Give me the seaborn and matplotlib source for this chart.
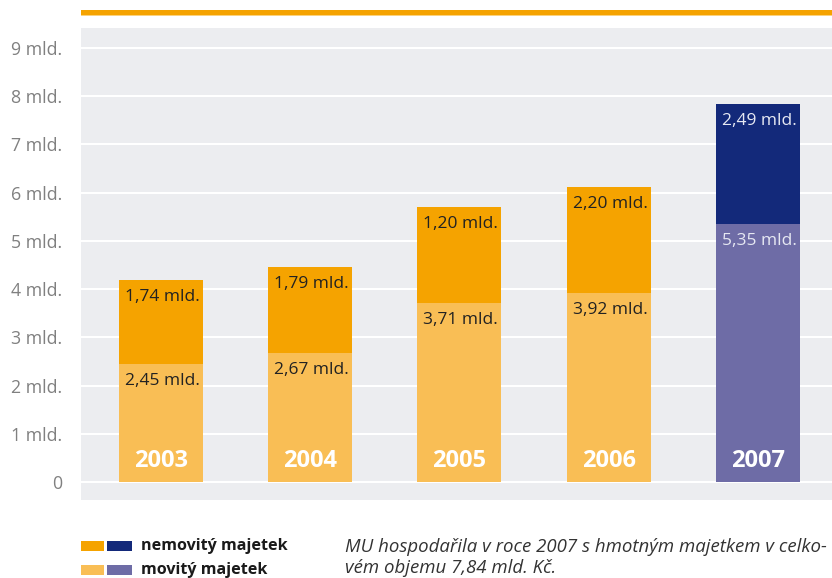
import matplotlib
matplotlib.use("Agg")
import matplotlib.pyplot as plt
import seaborn as sns
import pandas as pd
from matplotlib.patches import Rectangle

# ---- data ----
years = ["2003", "2004", "2005", "2006", "2007"]
movity = [2.45, 2.67, 3.71, 3.92, 5.35]          # lower segment (movitý majetek)
nemovity = [1.74, 1.79, 2.00, 2.20, 2.49]        # upper segment height as drawn
movity_labels = ["2,45 mld.", "2,67 mld.", "3,71 mld.", "3,92 mld.", "5,35 mld."]
nemovity_labels = ["1,74 mld.", "1,79 mld.", "1,20 mld.", "2,20 mld.", "2,49 mld."]
ytick_vals = [0, 1, 2, 3, 4, 5, 6, 7, 8, 9]
ytick_labels = ["0", "1 mld.", "2 mld.", "3 mld.", "4 mld.", "5 mld.",
                "6 mld.", "7 mld.", "8 mld.", "9 mld."]
legend_labels = ["nemovitý majetek", "movitý majetek"]
caption = "MU hospodařila v roce 2007 s hmotným majetkem v celko-\nvém objemu 7,84 mld. Kč."

# ---- colours ----
upper_colors = ["#F5A300", "#F5A300", "#F5A300", "#F5A300", "#13297A"]
lower_colors = ["#F9BE55", "#F9BE55", "#F9BE55", "#F9BE55", "#6E6CA6"]
upper_text = ["#222222"] * 4 + ["#E6E8F2"]
lower_text = ["#222222"] * 4 + ["#E6E8F2"]
panel = "#ECEDF0"

sns.set_theme(style="white")
plt.rcParams["font.family"] = ["Open Sans", "DejaVu Sans"]

W, H = 832, 578
fig = plt.figure(figsize=(W / 100, H / 100), dpi=100)
ax = fig.add_axes([81 / W, 1 - 500 / H, 1 - 81 / W, (500 - 28) / H])
ax.set_facecolor(panel)

totals = [m + n for m, n in zip(movity, nemovity)]
df = pd.DataFrame({"year": years, "total": totals, "movity": movity})

sns.barplot(data=df, x="year", y="total", hue="year", palette=upper_colors,
            legend=False, width=0.563, saturation=1, ax=ax, zorder=3, linewidth=0)
sns.barplot(data=df, x="year", y="movity", hue="year", palette=lower_colors,
            legend=False, width=0.563, saturation=1, ax=ax, zorder=4, linewidth=0)

ax.set_xlim(-0.536, 4.496)
ax.set_ylim(-0.37, 9.41)
ax.set_yticks(ytick_vals)
ax.set_yticklabels(ytick_labels)
ax.set_xticks([])
ax.set_xlabel("")
ax.set_ylabel("")
for s in ax.spines.values():
    s.set_visible(False)
ax.tick_params(axis="y", length=0, pad=13.5, labelsize=12.8, labelcolor="#808080")
ax.grid(axis="y", color="white", linewidth=1.5, zorder=1)
ax.set_axisbelow(True)

off = -12.2  # points below segment top
for i in range(len(years)):
    ax.annotate(nemovity_labels[i], xy=(i, totals[i]), xytext=(1, off),
                textcoords="offset points", ha="center", va="center",
                fontsize=12.5, color=upper_text[i], zorder=6)
    ax.annotate(movity_labels[i], xy=(i, movity[i]), xytext=(1, off),
                textcoords="offset points", ha="center", va="center",
                fontsize=12.5, color=lower_text[i], zorder=6)
    ax.annotate(years[i], xy=(i, 0), xytext=(0, 15.5),
                textcoords="offset points", ha="center", va="center",
                fontsize=17, fontweight="bold", color="white", zorder=6)

# orange top rule
fig.add_artist(Rectangle((81 / W, 1 - 15 / H), 1 - 81 / W, 5 / H,
                         transform=fig.transFigure, color="#F5A300", lw=0))
fig.add_artist(Rectangle((81 / W, 1 - 16 / H), 1 - 81 / W, 1 / H,
                         transform=fig.transFigure, color="#FAD27F", lw=0))

# legend
rows_y = [546, 570]
pairs = [(upper_colors[0], upper_colors[4]), (lower_colors[0], lower_colors[4])]
for (c1, c2), yc, lab in zip(pairs, rows_y, legend_labels):
    fig.add_artist(Rectangle((81 / W, 1 - (yc + 5) / H), 23 / W, 10 / H,
                             transform=fig.transFigure, color=c1, lw=0))
    fig.add_artist(Rectangle((107 / W, 1 - (yc + 5) / H), 25 / W, 10 / H,
                             transform=fig.transFigure, color=c2, lw=0))
    fig.text(141 / W, 1 - yc / H, lab, ha="left", va="center",
             fontsize=11.6, fontweight="bold", color="#1a1a1a")

fig.text(345 / W, 1 - 557.5 / H, caption, ha="left", va="center",
         fontsize=13.4, fontstyle="italic", color="#333333", linespacing=1.2)

fig.savefig("out.png", dpi=100)
